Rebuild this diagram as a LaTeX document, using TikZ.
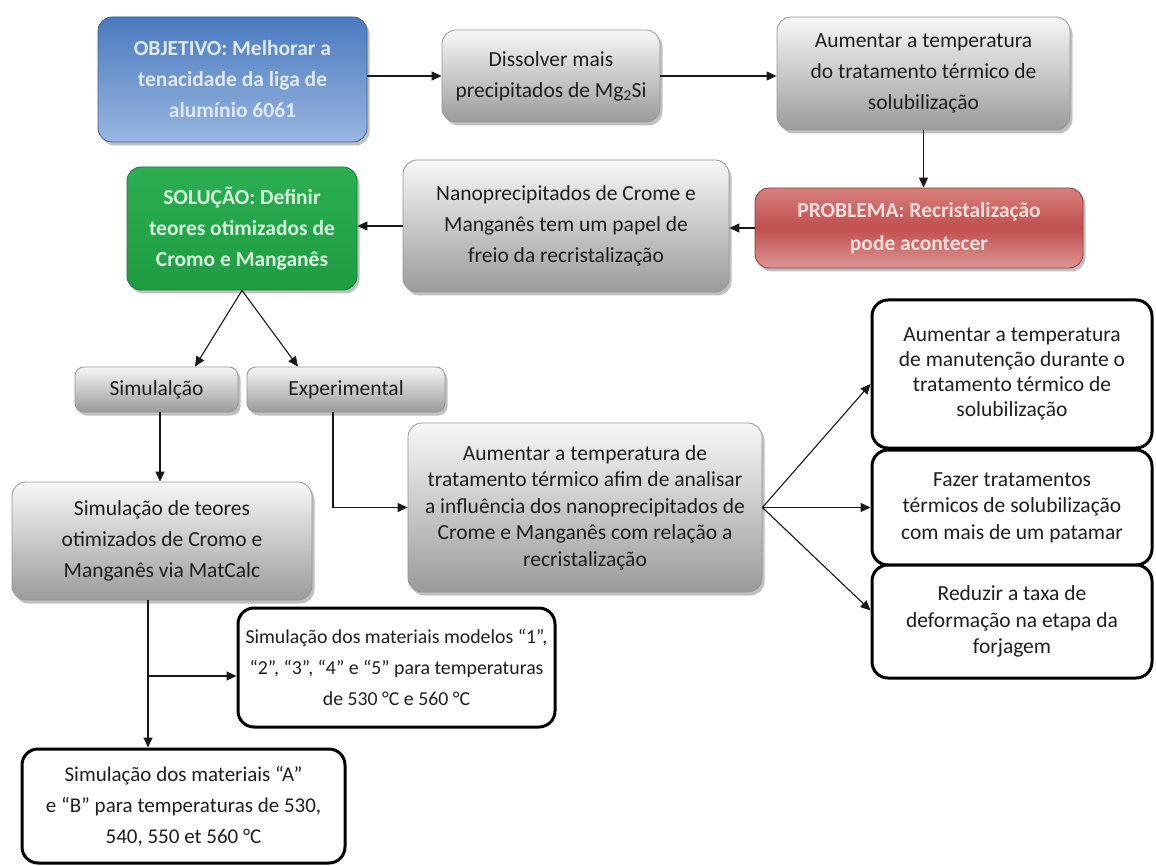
\documentclass[tikz,border=0pt]{standalone}
\usepackage{fontspec}
\setmainfont{Carlito}
\usetikzlibrary{arrows.meta,shadows,calc}

\definecolor{gtop}{RGB}{247,247,247}
\definecolor{gbot}{RGB}{155,155,155}
\definecolor{gline}{RGB}{150,150,150}
\definecolor{gtext}{RGB}{30,30,30}
\definecolor{btop}{RGB}{74,122,190}
\definecolor{bbot}{RGB}{152,182,224}
\definecolor{bline}{RGB}{60,96,150}
\definecolor{btext}{RGB}{222,232,246}
\definecolor{gntop}{RGB}{44,174,82}
\definecolor{gnbot}{RGB}{30,156,66}
\definecolor{gnline}{RGB}{24,120,50}
\definecolor{gntext}{RGB}{215,242,220}
\definecolor{rtop}{RGB}{214,128,126}
\definecolor{rmid}{RGB}{192,80,77}
\definecolor{rbot}{RGB}{222,150,148}
\definecolor{rline}{RGB}{150,55,52}
\definecolor{rtext}{RGB}{246,222,221}

\begin{document}
\begin{tikzpicture}[x=1pt,y=-1pt,
  box/.style={rounded corners=14pt, align=center, inner sep=0pt,
    font=\fontsize{21.5}{31}\selectfont},
  tight/.style={font=\fontsize{21.5}{26.5}\selectfont},
  softshadow/.style={drop shadow={shadow xshift=2.5pt, shadow yshift=-3.5pt, opacity=0.35, fill=black!70}},
  graybox/.style={box, draw=gline, line width=0.8pt, top color=gtop, bottom color=gbot,
    text=gtext, softshadow},
  bluebox/.style={box, draw=bline, line width=0.8pt, top color=btop, bottom color=bbot,
    text=btext, font=\fontsize{21.5}{31}\selectfont\bfseries, softshadow},
  greenbox/.style={box, draw=gnline, line width=0.8pt, top color=gntop, bottom color=gnbot,
    text=gntext, font=\fontsize{21.5}{31}\selectfont\bfseries, softshadow},
  redbox/.style={box, draw=rline, line width=0.8pt, top color=rtop, bottom color=rbot,
    middle color=rmid, text=rtext, font=\fontsize{21.5}{33}\selectfont\bfseries, softshadow},
  whitebox/.style={box, draw=black, line width=3pt, fill=white, rounded corners=16pt, text=gtext},
  arr/.style={draw=black!90, line width=1.1pt, -{Triangle[length=10pt,width=9pt]}}
]
\useasboundingbox (0,0) rectangle (1156,866);
\fill[white] (0,0) rectangle (1156,866);

% top row
\node[bluebox, minimum width=269pt, minimum height=125pt] (obj) at (232.5,79.5)
  {OBJETIVO: Melhorar a\\tenacidade da liga de\\alumínio 6061};
\node[graybox, minimum width=218pt, minimum height=92pt] (dis) at (551,76)
  {Dissolver mais\\precipitados de Mg\textsubscript{2}Si};
\node[graybox, minimum width=293pt, minimum height=113pt] (aum) at (923.5,73.5)
  {Aumentar a temperatura\\do tratamento térmico de\\solubilização};

% second row
\node[redbox, minimum width=328pt, minimum height=80pt] (prob) at (919,228)
  {PROBLEMA: Recristalização\\pode acontecer};
\node[graybox, minimum width=326pt, minimum height=132pt] (nano) at (566,226)
  {Nanoprecipitados de Crome e\\Manganês tem um papel de\\freio da recristalização};
\node[greenbox, minimum width=230pt, minimum height=123pt] (sol) at (242,228.5)
  {SOLUÇÃO: Definir\\teores otimizados de\\Cromo e Manganês};

% branches
\node[graybox, rounded corners=9pt, minimum width=163pt, minimum height=45pt] (sim) at (156.5,389.5)
  {Simulalção};
\node[graybox, rounded corners=9pt, minimum width=198pt, minimum height=45pt] (exp) at (346,389.5)
  {Experimental};

\node[graybox, minimum width=300pt, minimum height=118pt] (simteo) at (162,541)
  {Simulação de teores\\otimizados de Cromo e\\Manganês via MatCalc};
\node[graybox, tight, minimum width=354pt, minimum height=169pt] (big) at (585,507.5)
  {Aumentar a temperatura de\\tratamento térmico afim de analisar\\a influência dos nanoprecipitados de\\Crome e Manganês com relação a\\recristalização};

% right column
\node[whitebox, font=\fontsize{21.5}{25}\selectfont, minimum width=280pt, minimum height=148pt] (r1) at (1012,374)
  {Aumentar a temperatura\\de manutenção durante o\\tratamento térmico de\\solubilização};
\node[whitebox, tight, minimum width=280pt, minimum height=115pt] (r2) at (1012,507.5)
  {Fazer tratamentos\\térmicos de solubilização\\com mais de um patamar};
\node[whitebox, tight, minimum width=280pt, minimum height=113pt] (r3) at (1012,621.5)
  {Reduzir a taxa de\\deformação na etapa da\\forjagem};

% simulation results
\node[whitebox, font=\fontsize{19.8}{31}\selectfont, minimum width=317pt, minimum height=119pt] (mod) at (396.5,667.5)
  {Simulação dos materiais modelos “1”,\\“2”, “3”, “4” e “5” para temperaturas\\de 530 °C e 560 °C};
\node[whitebox, font=\fontsize{21}{31}\selectfont, minimum width=323pt, minimum height=114pt] (ab) at (183.5,806)
  {Simulação dos materiais “A”\\e “B” para temperaturas de 530,\\540, 550 et 560 °C};

% connectors
\draw[arr] (obj.east |- dis.west) -- (dis.west);
\draw[arr] (dis.east) -- (aum.west |- dis.east);
\draw[arr] (aum.south) -- (aum.south |- prob.north);
\draw[arr] (prob.west) -- (nano.east |- prob.west);
\draw[arr] (nano.west) -- (sol.east |- nano.west);

\draw[arr] (sol.south) -- ([xshift=38.5pt]sim.north);
\draw[arr] (sol.south) -- ([xshift=-48pt]exp.north);

\draw[arr] ([xshift=3.5pt]sim.south) -- ([xshift=3.5pt]sim.south |- simteo.north);
\draw[arr] ([xshift=-13pt]exp.south) |- (big.west);

\draw[arr] (big.east) -- ([yshift=-10pt]r1.west);
\draw[arr] (big.east) -- (r2.west);
\draw[arr] (big.east) -- ([yshift=11pt]r3.west);

\coordinate (split) at (148,676);
\draw[arr] (simteo.south -| split) -- (ab.north -| split);
\draw[arr] (split) -- (mod.west |- split);
\end{tikzpicture}
\end{document}
